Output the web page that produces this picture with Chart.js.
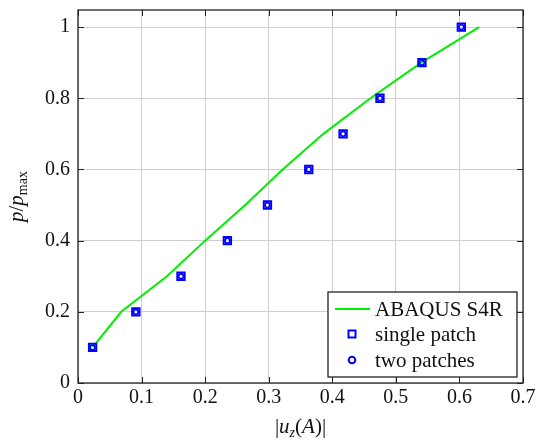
<!DOCTYPE html>
<html>
<head>
<meta charset="utf-8">
<script src="https://cdn.jsdelivr.net/npm/chart.js@4.4.1/dist/chart.umd.min.js"></script>
<style>
  body { margin: 0; background: #fff; }
</style>
</head>
<body>
<canvas id="myChart" width="537" height="440"></canvas>
<script>
// load ratio p/pmax
const loads = [0.1, 0.2, 0.3, 0.4, 0.5, 0.6, 0.7, 0.8, 0.9, 1.0];
// |uz(A)|
const uzAbaqus = [0.023, 0.068, 0.140, 0.200, 0.263, 0.322, 0.386, 0.460, 0.540, 0.631];
const uzSingle = [0.023, 0.091, 0.162, 0.235, 0.298, 0.363, 0.417, 0.475, 0.541, 0.603];
const uzTwo = [0.023, 0.091, 0.162, 0.235, 0.298, 0.363, 0.417, 0.475, 0.541, 0.603];

const xTicks = [0, 0.1, 0.2, 0.3, 0.4, 0.5, 0.6, 0.7];
const yTicks = [0, 0.2, 0.4, 0.6, 0.8, 1];
const seriesNames = ["ABAQUS S4R", "single patch", "two patches"];

const FONT = "'Liberation Serif', serif";
const ctx = document.getElementById("myChart");

const toPoints = (xs, ys) => xs.map((x, i) => ({ x: x, y: ys[i] }));

// box round the plot, with ticks pointing inwards on all four sides
const framePlugin = {
  id: "frame",
  afterDatasetsDraw(chart) {
    const c = chart.ctx;
    const a = chart.chartArea;
    const sx = chart.scales.x;
    const sy = chart.scales.y;
    c.save();
    c.strokeStyle = "#222";
    c.lineWidth = 1;
    c.beginPath();
    xTicks.forEach((v) => {
      const px = Math.round(sx.getPixelForValue(v)) + 0.5;
      c.moveTo(px, a.bottom); c.lineTo(px, a.bottom - 6);
      c.moveTo(px, a.top); c.lineTo(px, a.top + 6);
    });
    yTicks.forEach((v) => {
      const py = Math.round(sy.getPixelForValue(v)) + 0.5;
      c.moveTo(a.left, py); c.lineTo(a.left + 6, py);
      c.moveTo(a.right, py); c.lineTo(a.right - 6, py);
    });
    c.stroke();
    c.lineWidth = 1.3;
    c.strokeRect(a.left, a.top, a.right - a.left, a.bottom - a.top);
    c.restore();
  },
  afterDraw(chart) {
    const c = chart.ctx;
    const a = chart.chartArea;
    c.save();
    // legend
    const bx = a.right - 195, by = a.bottom - 91, bw = 189, bh = 85;
    c.fillStyle = "#fff";
    c.fillRect(bx, by, bw, bh);
    c.strokeStyle = "#111";
    c.lineWidth = 1.2;
    c.strokeRect(bx, by, bw, bh);
    const rows = [by + 17, by + 42, by + 68];
    const sxc = bx + 24;
    c.lineWidth = 2;
    c.strokeStyle = "#00ee00";
    c.beginPath(); c.moveTo(bx + 7, rows[0]); c.lineTo(bx + 42, rows[0]); c.stroke();
    c.strokeStyle = "#0000ff";
    c.strokeRect(sxc - 3.5, rows[1] - 3.5, 7, 7);
    c.beginPath(); c.arc(sxc, rows[2], 3.3, 0, Math.PI * 2); c.stroke();
    c.fillStyle = "#111";
    c.font = "21px " + FONT;
    c.textBaseline = "middle";
    seriesNames.forEach((n, i) => c.fillText(n, bx + 47, rows[i] + 1));

    // axis titles with subscripts
    const it = "italic 21px " + FONT, up = "21px " + FONT;
    const drawParts = (parts, x0, y0) => {
      let w = 0;
      parts.forEach((p) => { c.font = p[1]; w += c.measureText(p[0]).width; });
      let x = x0 - w / 2;
      parts.forEach((p) => {
        c.font = p[1];
        c.fillText(p[0], x, y0 + (p[2] || 0));
        x += c.measureText(p[0]).width;
      });
    };
    c.textBaseline = "alphabetic";
    drawParts([["|", up], ["u", it], ["z", "italic 14px " + FONT, 4], ["(", up], ["A", it], [")|", up]],
      (a.left + a.right) / 2, 433);
    c.translate(23, (a.top + a.bottom) / 2);
    c.rotate(-Math.PI / 2);
    drawParts([["p", it], ["/", up], ["p", it], ["max", "14px " + FONT, 4]], 0, 0);
    c.restore();
  },
};

new Chart(ctx, {
  type: "scatter",
  data: {
    datasets: [
      {
        label: seriesNames[0],
        data: toPoints(uzAbaqus, loads),
        showLine: true,
        borderColor: "#00ee00",
        borderWidth: 2,
        pointRadius: 0,
        order: 3,
      },
      {
        label: seriesNames[1],
        data: toPoints(uzSingle, loads),
        pointStyle: "rect",
        pointRadius: 5.2,
        pointBorderWidth: 2,
        pointBorderColor: "#0000ff",
        pointBackgroundColor: "rgba(0,0,0,0)",
        order: 2,
      },
      {
        label: seriesNames[2],
        data: toPoints(uzTwo, loads),
        pointStyle: "circle",
        pointRadius: 2.4,
        pointBorderWidth: 1.6,
        pointBorderColor: "#0000ff",
        pointBackgroundColor: "rgba(0,0,0,0)",
        order: 1,
      },
    ],
  },
  options: {
    responsive: false,
    animation: false,
    layout: { padding: { top: 10, right: 14, left: 0, bottom: 0 } },
    plugins: { legend: { display: false }, tooltip: { enabled: false } },
    scales: {
      x: {
        type: "linear",
        min: 0,
        max: 0.7,
        afterBuildTicks: (s) => { s.ticks = xTicks.map((v) => ({ value: v })); },
        afterFit: (s) => { s.height = 57; s.paddingLeft = 0; s.paddingRight = 0; },
        grid: { color: "#cfcfcf", drawTicks: false },
        border: { display: false },
        ticks: { color: "#111", padding: 3, callback: (v) => String(v), font: { family: FONT, size: 20 } },
      },
      y: {
        type: "linear",
        min: 0,
        max: 1.048,
        afterBuildTicks: (s) => { s.ticks = yTicks.map((v) => ({ value: v })); },
        afterFit: (s) => { s.width = 78; s.paddingTop = 0; s.paddingBottom = 0; },
        grid: { color: "#cfcfcf", drawTicks: false },
        border: { display: false },
        ticks: { color: "#111", padding: 8, callback: (v) => String(v), font: { family: FONT, size: 20 } },
      },
    },
  },
  plugins: [framePlugin],
});
</script>
</body>
</html>
